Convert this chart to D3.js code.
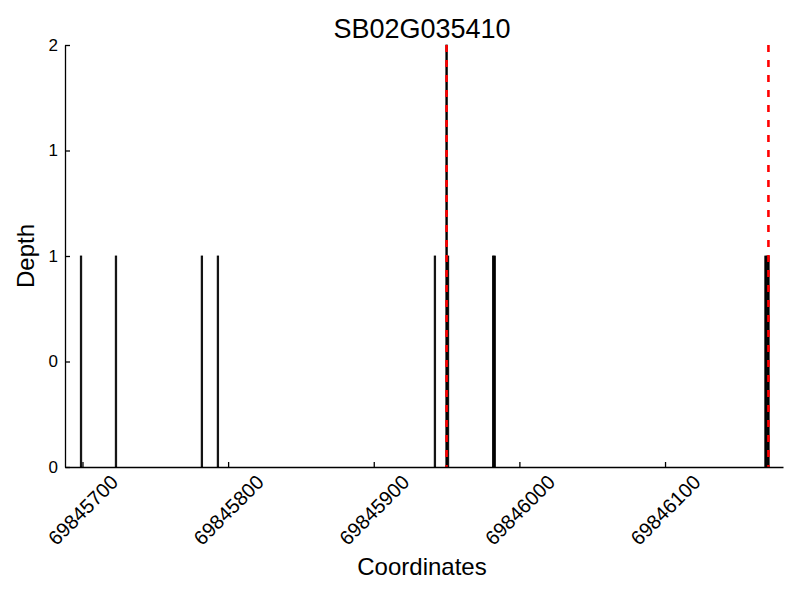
<!DOCTYPE html>
<meta charset="utf-8">
<style>
body { margin: 0; background: #fff; }
svg { font-family: "Liberation Sans", Arial, sans-serif; }
.axis path, .axis line { stroke: #000; stroke-width: 1.3; }
</style>
<svg width="800" height="600"></svg>
<script src="https://d3js.org/d3.v7.min.js"></script>
<script>
// read depth per coordinate
var positions = [69845699, 69845723, 69845782, 69845793, 69845942, 69845950, 69845951,
                 69845982, 69845983, 69846169, 69846170, 69846171];
var depths = [1, 1, 1, 1, 1, 2, 1, 1, 1, 1, 1, 1];
// gene boundaries (red dashed)
var markers = [69845950, 69846171];
var xTicks = [69845700, 69845800, 69845900, 69846000, 69846100];
var yTicks = [0, 0.5, 1, 1.5, 2];
var yTickLabels = ["0", "0", "1", "1", "2"];

var svg = d3.select("svg"),
    plotLeft = 65, plotRight = 783, plotTop = 45, plotBottom = 467;

var x = d3.scaleLinear().domain([69845688, 69846181]).range([plotLeft, plotRight]);
var y = d3.scaleLinear().domain([0, 2]).range([plotBottom, plotTop]);

var data = positions.map(function(p, i) { return {pos: p, depth: depths[i]}; });

svg.append("g").selectAll("rect")
    .data(data).enter().append("rect")
    .attr("x", function(d) { return x(d.pos - 0.5); })
    .attr("width", function(d) { return x(d.pos + 0.5) - x(d.pos - 0.5); })
    .attr("y", function(d) { return y(d.depth); })
    .attr("height", function(d) { return y(0) - y(d.depth); })
    .attr("fill", "#000")
    .attr("stroke", "#000")
    .attr("stroke-width", 0.8);

svg.append("g").selectAll("line")
    .data(markers).enter().append("line")
    .attr("x1", function(d) { return x(d); })
    .attr("x2", function(d) { return x(d); })
    .attr("y1", y(2))
    .attr("y2", y(0))
    .attr("stroke", "red")
    .attr("stroke-width", 2.6)
    .attr("stroke-dasharray", "7,8");

var xAxis = svg.append("g")
    .attr("class", "axis")
    .attr("transform", "translate(0," + plotBottom + ")")
    .call(d3.axisBottom(x).tickValues(xTicks).tickFormat(d3.format("d"))
      .tickSizeInner(-5).tickSizeOuter(0));
xAxis.selectAll("text")
    .attr("y", 0).attr("dy", null)
    .attr("transform", "translate(0,43) rotate(-45)")
    .attr("dominant-baseline", "central")
    .style("text-anchor", "middle")
    .style("font-size", "20px")
    .style("font-family", "Liberation Sans, Arial, sans-serif");

var yAxis = svg.append("g")
    .attr("class", "axis")
    .attr("transform", "translate(" + plotLeft + ",0)")
    .call(d3.axisLeft(y).tickValues(yTicks)
      .tickFormat(function(d, i) { return yTickLabels[i]; })
      .tickSizeInner(-5).tickSizeOuter(0));
yAxis.selectAll("text")
    .attr("x", -7)
    .style("font-size", "17px")
    .style("font-family", "Liberation Sans, Arial, sans-serif");

svg.append("text")
    .attr("x", 422).attr("y", 38)
    .attr("text-anchor", "middle")
    .style("font-size", "27px")
    .text("SB02G035410");

svg.append("text")
    .attr("x", 422).attr("y", 575)
    .attr("text-anchor", "middle")
    .style("font-size", "24px")
    .text("Coordinates");

svg.append("text")
    .attr("transform", "translate(34,256) rotate(-90)")
    .attr("text-anchor", "middle")
    .style("font-size", "24px")
    .text("Depth");
</script>
